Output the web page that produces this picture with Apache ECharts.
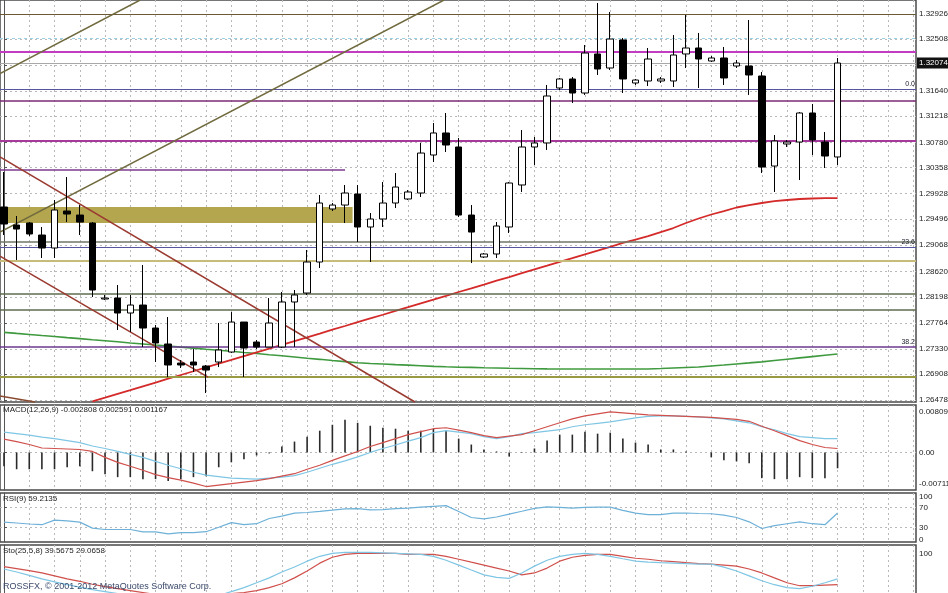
<!DOCTYPE html>
<html><head><meta charset="utf-8">
<script src="https://cdn.jsdelivr.net/npm/echarts@6/dist/echarts.min.js"></script>
<style>html,body{margin:0;padding:0;background:#fff}#c{width:948px;height:593px}</style>
</head><body><div id="c"></div>
<script>
// ---------------- DATA ----------------
const opens=[1.29701,1.29400,1.29434,1.29233,1.29016,1.29634,1.29567,1.29434,1.28164,1.28180,
 1.27930,1.28063,1.27679,1.27412,1.27094,1.27111,1.27044,1.27111,1.27278,1.27779,
 1.27445,1.27362,1.27362,1.28114,1.28264,1.28782,1.29668,1.29734,1.29918,1.29367,
 1.29501,1.29768,1.29835,1.29935,1.30570,1.30938,1.30704,1.29567,1.28866,1.28916,
 1.29367,1.30069,1.30704,1.30771,1.31690,1.31840,1.31606,1.32258,1.32024,1.32492,
 1.31773,1.31807,1.31807,1.31807,1.32258,1.32358,1.32141,1.32191,1.32057,1.32057,
 1.31890,1.30386,1.30754,1.30787,1.31272,1.30787,1.30537];
const closes=[1.29417,1.29333,1.29250,1.29016,1.29651,1.29584,1.29450,1.28314,1.28180,1.27930,
 1.28063,1.27679,1.27429,1.27061,1.27061,1.27061,1.26977,1.27312,1.27779,1.27345,
 1.27362,1.27763,1.28114,1.28231,1.28782,1.29768,1.29734,1.29935,1.29367,1.29501,
 1.29768,1.30035,1.29952,1.30603,1.30938,1.30737,1.29567,1.29283,1.28916,1.29384,
 1.30102,1.30704,1.30771,1.31556,1.31840,1.31606,1.32274,1.32007,1.32508,1.31840,
 1.31823,1.32174,1.31840,1.32241,1.32358,1.32174,1.32191,1.31857,1.32107,1.31907,
 1.30369,1.30804,1.30787,1.31272,1.30821,1.30553,1.32107];
const lows=[1.29233,1.28815,1.29216,1.28849,1.28849,1.29450,1.29233,1.28197,1.28147,1.27646,
 1.27612,1.27362,1.27111,1.26860,1.27011,1.26944,1.26593,1.27027,1.27261,1.26860,
 1.27328,1.27362,1.27345,1.27362,1.28231,1.28682,1.29634,1.29434,1.29116,1.28782,
 1.29367,1.29684,1.29818,1.29868,1.30453,1.30620,1.29534,1.28765,1.28849,1.28849,
 1.29267,1.29952,1.30403,1.30654,1.31656,1.31439,1.31573,1.31907,1.31990,1.31606,
 1.31740,1.31723,1.31773,1.31706,1.32024,1.31690,1.32124,1.31740,1.32024,1.31573,
 1.30269,1.29952,1.30704,1.30152,1.30570,1.30353,1.30403];
const highs=[1.30286,1.29551,1.29450,1.29367,1.29818,1.30202,1.29734,1.29450,1.28231,1.28398,
 1.28231,1.28732,1.27729,1.27863,1.27144,1.27328,1.27061,1.27763,1.27946,1.27779,
 1.27479,1.28180,1.28281,1.28314,1.28983,1.29902,1.29768,1.30069,1.30069,1.29601,
 1.30119,1.30269,1.29985,1.30771,1.31105,1.31272,1.30854,1.29734,1.28932,1.29450,
 1.30119,1.30988,1.30871,1.31740,1.31857,1.31873,1.32408,1.33110,1.32960,1.32525,
 1.31840,1.32358,1.31873,1.32575,1.32909,1.32609,1.32224,1.32375,1.32157,1.32826,
 1.31957,1.30904,1.30821,1.31288,1.31422,1.30954,1.32191];
const maRed=[null,null,null,null,null,null,null,1.26453,1.26516,1.26580,
 1.26641,1.26705,1.26768,1.26832,1.26894,1.26957,1.27021,1.27083,1.27146,1.27210,
 1.27271,1.27335,1.27398,1.27462,1.27524,1.27587,1.27651,1.27713,1.27776,1.27840,
 1.27901,1.27965,1.28028,1.28092,1.28154,1.28217,1.28281,1.28343,1.28406,1.28470,
 1.28531,1.28595,1.28658,1.28720,1.28784,1.28847,1.28911,1.28973,1.29036,1.29100,
 1.29158,1.29216,1.29283,1.29350,1.29434,1.29509,1.29576,1.29634,1.29693,1.29734,
 1.29768,1.29801,1.29818,1.29835,1.29843,1.29851,1.29851];
const maGreen=[1.27607,1.27589,1.27572,1.27554,1.27537,1.27519,1.27502,1.27484,1.27467,1.27449,
 1.27430,1.27413,1.27395,1.27378,1.27360,1.27343,1.27325,1.27308,1.27290,1.27271,
 1.27253,1.27233,1.27215,1.27195,1.27175,1.27156,1.27136,1.27118,1.27098,1.27086,
 1.27078,1.27068,1.27059,1.27049,1.27039,1.27031,1.27024,1.27021,1.27016,1.27012,
 1.27007,1.27004,1.26999,1.26996,1.26994,1.26994,1.26994,1.26994,1.26994,1.26994,
 1.26994,1.26994,1.27002,1.27011,1.27019,1.27027,1.27044,1.27061,1.27079,1.27096,
 1.27114,1.27136,1.27158,1.27180,1.27201,1.27223,1.27245];
const macdHist=[-0.00252,-0.00306,-0.00306,-0.00306,-0.00306,-0.00270,-0.00252,-0.00342,-0.00396,-0.00450,
 -0.00450,-0.00486,-0.00486,-0.00522,-0.00486,-0.00450,-0.00432,-0.00270,-0.00180,-0.00126,
 -0.00054,-0.00018,0.00108,0.00198,0.00288,0.00396,0.00504,0.00594,0.00540,0.00486,
 0.00450,0.00432,0.00396,0.00396,0.00432,0.00396,0.00252,0.00144,0.00054,0.00018,
 -0.00072,0.00009,0.00072,0.00216,0.00324,0.00324,0.00378,0.00342,0.00360,0.00252,
 0.00180,0.00144,0.00054,0.00054,0.00018,0.00000,-0.00090,-0.00144,-0.00162,-0.00198,
 -0.00468,-0.00486,-0.00486,-0.00450,-0.00468,-0.00468,-0.00288];
const macdBlue=[0.00369,0.00342,0.00315,0.00279,0.00252,0.00216,0.00180,0.00117,0.00072,0.00018,
 -0.00036,-0.00090,-0.00162,-0.00234,-0.00297,-0.00360,-0.00414,-0.00441,-0.00468,-0.00477,
 -0.00486,-0.00468,-0.00450,-0.00423,-0.00360,-0.00288,-0.00216,-0.00153,-0.00081,0.00000,
 0.00072,0.00135,0.00207,0.00270,0.00360,0.00396,0.00369,0.00342,0.00288,0.00252,
 0.00288,0.00342,0.00360,0.00387,0.00414,0.00468,0.00504,0.00531,0.00558,0.00594,
 0.00630,0.00657,0.00666,0.00666,0.00657,0.00648,0.00630,0.00612,0.00576,0.00540,
 0.00468,0.00414,0.00342,0.00288,0.00270,0.00252,0.00252];
const macdRed=[0.00243,0.00198,0.00144,0.00081,0.00072,0.00063,0.00054,0.00018,-0.00090,-0.00180,
 -0.00252,-0.00324,-0.00405,-0.00459,-0.00504,-0.00558,-0.00621,-0.00594,-0.00567,-0.00540,
 -0.00513,-0.00477,-0.00432,-0.00387,-0.00306,-0.00234,-0.00144,-0.00063,0.00018,0.00108,
 0.00180,0.00252,0.00324,0.00378,0.00432,0.00450,0.00405,0.00360,0.00306,0.00270,
 0.00297,0.00324,0.00396,0.00468,0.00540,0.00612,0.00666,0.00702,0.00738,0.00720,
 0.00702,0.00684,0.00675,0.00666,0.00657,0.00648,0.00639,0.00621,0.00603,0.00567,
 0.00477,0.00396,0.00306,0.00216,0.00144,0.00090,0.00072];
const rsi=[40.6,38.8,36.7,35.3,44.7,43.1,40.6,28.4,25.5,25.5,
 25.5,20.6,20.6,16.7,19.0,19.0,21.0,30.0,39.6,35.3,
 37.3,48.0,52.9,58.8,60.2,62.4,64.9,67.7,68.0,65.7,
 65.9,68.2,69.2,71.0,72.9,74.3,62.2,50.0,47.1,51.0,
 56.9,62.7,68.6,71.8,70.8,69.2,70.6,71.0,71.2,64.7,
 58.8,55.9,55.9,58.8,59.2,58.2,57.7,54.9,50.0,41.2,
 27.5,33.3,37.3,41.2,37.3,35.3,59.2];
const stoRed=[61.4,57.9,54.4,50.1,44.8,39.6,35.2,29.9,25.6,22.1,
 18.6,15.1,11.6,9.8,8.1,8.1,8.1,9.8,13.3,15.1,
 18.6,23.8,30.8,41.3,53.6,67.6,78.1,83.3,85.1,85.1,
 85.1,85.1,83.3,83.3,83.3,79.8,74.6,69.3,64.1,58.8,
 53.6,46.6,50.1,58.8,71.1,78.1,81.6,83.3,83.3,79.8,
 76.3,74.6,71.9,70.2,68.4,66.7,65.8,64.1,62.3,57.1,
 50.1,41.3,32.6,27.3,27.3,28.2,29.1];
const stoBlue=[57.1,51.8,45.7,39.6,34.3,29.1,24.7,20.3,16.8,13.3,
 9.8,6.3,4.6,2.8,2.8,2.8,4.6,9.8,16.8,23.8,
 32.6,41.3,51.8,60.6,71.1,79.8,85.1,86.8,86.8,86.8,
 85.9,85.1,84.2,83.3,79.8,72.8,64.1,55.3,46.6,42.2,
 40.4,50.1,62.3,72.8,79.8,83.3,85.1,83.3,79.8,75.4,
 71.1,69.3,68.4,67.6,66.7,65.8,65.8,60.6,53.6,44.8,
 36.1,29.1,23.8,22.1,26.4,32.6,39.6];
const priceTicks=[1.32926,1.32508,1.32074,1.31640,1.31218,1.30780,1.30358,1.29928,1.29496,1.29068,1.28620,1.28198,1.27764,1.27330,1.26908,1.26478];
const priceLabels=[1.32926,1.32508,1.31640,1.31218,1.30780,1.30358,1.29928,1.29496,1.29068,1.28620,1.28198,1.27764,1.27330,1.26908,1.26478];
// horizontal levels drawn on the chart
const levelTop=1.32926, levelMagenta1=1.32291, levelBlue=1.32525, levelPurple1=1.31472, levelMagenta2=1.30804;
const levelGray=1.29116, levelKhaki=1.28799, levelOlive1=1.28247, levelOlive2=1.27980, levelOlive3=1.26860;
const fibLevels=[1.31673,1.29033,1.27362];
const fibTexts=['0.0','23.6','38.2'];
const shortPurple=[[-0.317,1.30319],[27.0,1.30319]];
const zoneBox=[[-0.317,1.29701],[27.6,1.29434]];
const trendOlive=[[[-0.317,1.31930],[10.78,1.33160]],[[-0.317,1.29283],[34.84,1.33160]]];
const trendRed=[[[-0.317,1.30537],[32.54,1.26443]],[[-0.317,1.28882],[16.15,1.26860]],[[-0.317,1.26543],[2.45,1.26443]]];
const bidPrice=1.32107;

// ---------------- CHART ----------------
const XMIN=-0.317, XMAX=72.21;
const vTicks=[]; for(let k=0;k<=72;k+=2) vTicks.push(k);
const idx=opens.map((_,i)=>i);
const candleData=idx.map(i=>[i,opens[i],closes[i],lows[i],highs[i]]);
const pair=(arr)=>idx.map(i=>[i,arr[i]]);

const FONT='Liberation Sans';
const gridStyle={color:'#b9b9b9',type:[2,3],width:1};
function xa(g){return {type:'value',gridIndex:g,min:XMIN,max:XMAX,axisLine:{show:false},axisLabel:{show:false},
  axisTick:{show:false,customValues:vTicks},splitLine:{show:true,lineStyle:gridStyle}};}
function ya(g,min,max,ticks,labVals,labTexts){return {type:'value',gridIndex:g,position:'right',min,max,
  axisLine:{show:true,lineStyle:{color:'#555',width:1}},
  axisTick:{show:true,length:3,customValues:ticks,lineStyle:{color:'#555'}},
  splitLine:{show:true,lineStyle:gridStyle},
  axisLabel:{customValues:labVals,fontSize:8,color:'#222',margin:3,fontFamily:FONT,
    formatter:(v)=>{const k=labVals.indexOf(v);return labTexts?labTexts[k]:v.toFixed(5);}}};}

function hl(v,color,width){return {yAxis:v,lineStyle:{color,width,type:'solid'}};}
const seg=(p,color,width)=>[{coord:p[0],lineStyle:{color,width,type:'solid'}},{coord:p[1]}];
const fibLabel=(t)=>({show:true,position:'insideEndTop',formatter:t,fontSize:7,color:'#223',fontFamily:FONT,distance:1});

const mainLines=[
  hl(levelTop,'#6b5a36',1.2),
  {yAxis:levelBlue,lineStyle:{color:'#9ad3e6',width:1,type:[3,3]}},
  hl(levelMagenta1,'#c23cc2',2),
  hl(levelPurple1,'#7d2a72',1.6),
  hl(levelMagenta2,'#a53a9c',1.8),
  hl(levelGray,'#6f7766',1.5),
  hl(levelKhaki,'#c7bb7c',2.2),
  hl(levelOlive1,'#5f6b4f',1.6),
  hl(levelOlive2,'#5f6b4f',1.6),
  hl(levelOlive3,'#9a9a44',1.8),
  {yAxis:fibLevels[0],lineStyle:{color:'#5555a0',width:1.2,type:'solid'},label:fibLabel(fibTexts[0])},
  {yAxis:fibLevels[1],lineStyle:{color:'#5555a0',width:1.2,type:'solid'},label:fibLabel(fibTexts[1])},
  {yAxis:fibLevels[2],lineStyle:{color:'#6a3a90',width:1.6,type:'solid'},label:fibLabel(fibTexts[2])},
  {yAxis:bidPrice,lineStyle:{color:'#a8a8a8',width:1,type:'solid'},
    label:{show:true,position:'end',distance:1,formatter:'1.32074',color:'#fff',backgroundColor:'#111',padding:[2,2,1,2],fontSize:8,fontFamily:FONT}},
  seg(shortPurple,'#7c3a8c',1.5),
  seg(trendOlive[0],'#706a3e',1.5),
  seg(trendOlive[1],'#706a3e',1.5),
  seg(trendRed[0],'#9a3a30',1.5),
  seg(trendRed[1],'#9a3a30',1.5),
  seg(trendRed[2],'#8a4a30',1.5)
];

const G={left:0,right:32,show:true,borderColor:'#4a4a4a',borderWidth:1.5,outerBoundsMode:'none',containLabel:false};
const chart=echarts.init(document.getElementById('c'),null,{renderer:'canvas'});
chart.setOption({
  animation:false,
  backgroundColor:'#ffffff',
  grid:[
    Object.assign({},G,{top:0,height:402}),
    Object.assign({},G,{top:405,height:85}),
    Object.assign({},G,{top:493,height:49}),
    Object.assign({},G,{top:545,height:56})
  ],
  xAxis:[xa(0),xa(1),xa(2),xa(3)],
  yAxis:[
    ya(0,1.26443,1.33160,priceTicks,priceLabels,null),
    ya(1,-0.00684,0.00864,[0],[0.00738,0,-0.00576],['0.008090','0.00','-0.00711']),
    ya(2,0,100,[30,70],[92,70,30,4],['100','70','30','0']),
    ya(3,0,100,[],[84],['100'])
  ],
  graphic:[
    {type:'text',left:3,top:406,z:100,style:{text:'MACD(12,26,9) -0.002808 0.002591 0.001167',fontSize:8,fill:'#222',fontFamily:FONT}},
    {type:'text',left:3,top:495,z:100,style:{text:'RSI(9) 59.2135',fontSize:8,fill:'#222',fontFamily:FONT}},
    {type:'text',left:3,top:547,z:100,style:{text:'Sto(25,5,8) 39.5675 29.0658',fontSize:8,fill:'#222',fontFamily:FONT}},
    {type:'text',left:3,top:582,z:100,style:{text:'ROSSFX, © 2001-2012 MetaQuotes Software Corp.',fontSize:9,fill:'#3b4a6b',fontFamily:FONT}}
  ],
  series:[
    {type:'line',name:'levels',xAxisIndex:0,yAxisIndex:0,data:pair(maGreen),showSymbol:false,z:2,
      lineStyle:{color:'#3f9a3f',width:1.6},
      markArea:{silent:true,itemStyle:{color:'#b3a64e',opacity:1},data:[[{coord:zoneBox[0]},{coord:zoneBox[1]}]]},
      markLine:{silent:true,symbol:'none',precision:6,animation:false,label:{show:false},data:mainLines}},
    {type:'line',name:'MA',xAxisIndex:0,yAxisIndex:0,data:pair(maRed),showSymbol:false,z:3,connectNulls:false,
      lineStyle:{color:'#d42a2a',width:1.8}},
    {type:'candlestick',name:'price',xAxisIndex:0,yAxisIndex:0,data:candleData,encode:{x:0,y:[1,2,3,4]},barWidth:7,z:5,
      itemStyle:{color:'#ffffff',color0:'#000000',borderColor:'#000000',borderColor0:'#000000',borderWidth:1}},
    {type:'bar',name:'hist',xAxisIndex:1,yAxisIndex:1,data:pair(macdHist),barWidth:1.6,itemStyle:{color:'#2a2a2a'}},
    {type:'line',xAxisIndex:1,yAxisIndex:1,data:pair(macdBlue),showSymbol:false,lineStyle:{color:'#7fc6e4',width:1.2}},
    {type:'line',xAxisIndex:1,yAxisIndex:1,data:pair(macdRed),showSymbol:false,lineStyle:{color:'#d0504c',width:1.2}},
    {type:'line',xAxisIndex:2,yAxisIndex:2,data:pair(rsi),showSymbol:false,lineStyle:{color:'#6eb1d8',width:1.2}},
    {type:'line',xAxisIndex:3,yAxisIndex:3,data:pair(stoRed),showSymbol:false,lineStyle:{color:'#d0504c',width:1.2}},
    {type:'line',xAxisIndex:3,yAxisIndex:3,data:pair(stoBlue),showSymbol:false,lineStyle:{color:'#7fc6e4',width:1.2}}
  ]
});
</script></body></html>
